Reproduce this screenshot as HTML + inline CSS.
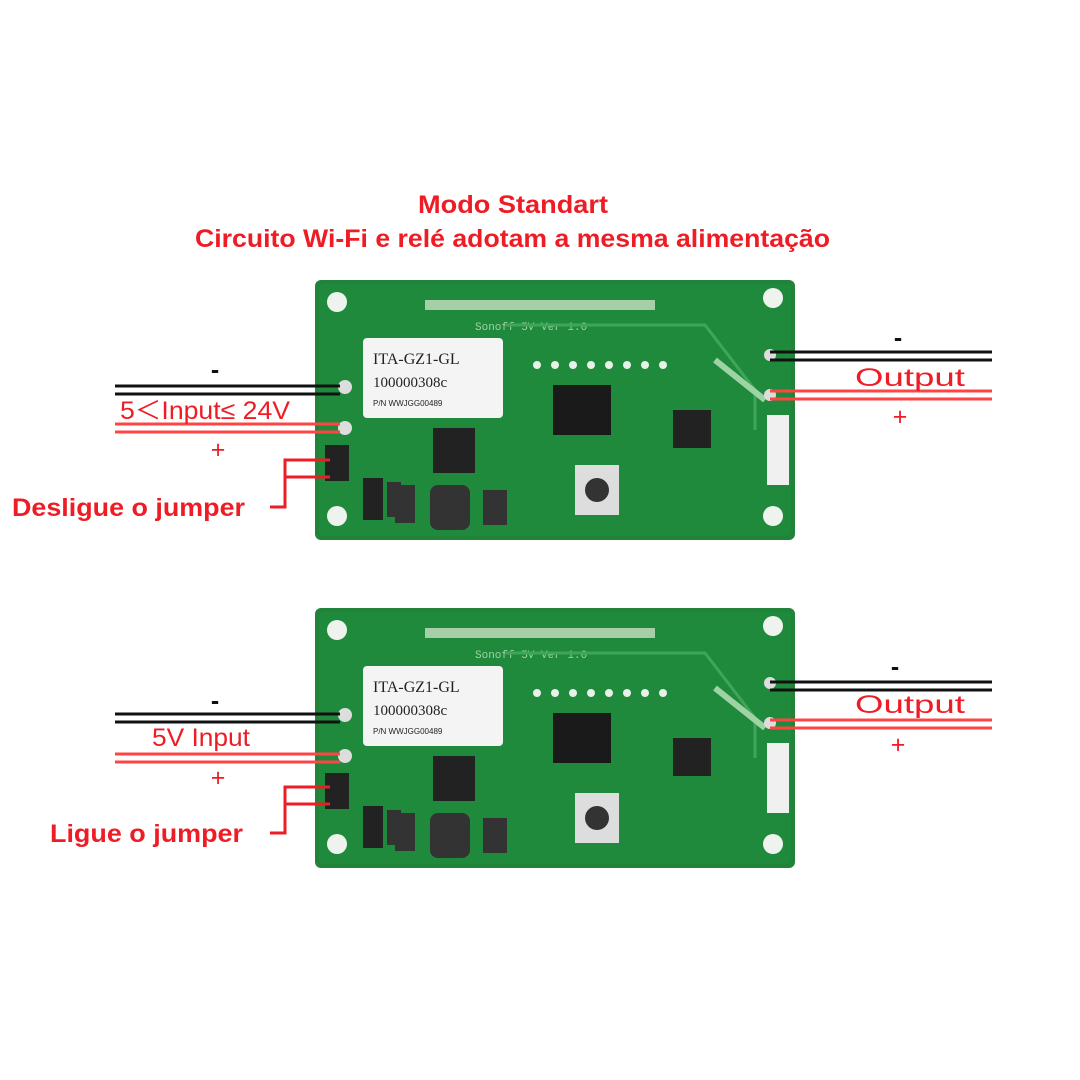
<!DOCTYPE html><html><head><style>body{margin:0;background:#fff}svg{display:block}</style></head><body>
<svg width="1080" height="1080" viewBox="0 0 1080 1080" xmlns="http://www.w3.org/2000/svg" font-family="Liberation Sans, sans-serif">
<defs>
<g id="board">
<rect x="0" y="0" width="480" height="260" rx="6" fill="#21823a"/>
<rect x="4" y="4" width="472" height="252" rx="5" fill="#1f8a3c"/>
<circle cx="22" cy="22" r="10" fill="#eef3ee"/><circle cx="458" cy="18" r="10" fill="#eef3ee"/>
<circle cx="22" cy="236" r="10" fill="#eef3ee"/><circle cx="458" cy="236" r="10" fill="#eef3ee"/>
<rect x="110" y="20" width="230" height="10" fill="#a6cfa8"/>
<text x="160" y="50" font-size="11" fill="#9fd3a4" font-family="Liberation Mono, monospace">Sonoff 5V Ver 1.0</text>
<path d="M190 45 L390 45 L440 110 L440 150" stroke="#3fa55a" stroke-width="3" fill="none"/>
<path d="M400 80 L450 120" stroke="#9fd3a4" stroke-width="6"/>
<rect x="48" y="58" width="140" height="80" rx="4" fill="#f4f4f4"/>
<text x="58" y="84" font-size="16" fill="#222" font-family="Liberation Serif, serif">ITA-GZ1-GL</text>
<text x="58" y="107" font-size="15" fill="#222" font-family="Liberation Serif, serif">100000308c</text>
<text x="58" y="126" font-size="8" fill="#222">P/N WWJGG00489</text>
<g fill="#e8f0e8"><circle cx="222" cy="85" r="4"/><circle cx="240" cy="85" r="4"/><circle cx="258" cy="85" r="4"/><circle cx="276" cy="85" r="4"/><circle cx="294" cy="85" r="4"/><circle cx="312" cy="85" r="4"/><circle cx="330" cy="85" r="4"/><circle cx="348" cy="85" r="4"/></g>
<rect x="238" y="105" width="58" height="50" fill="#1a1a1a"/>
<rect x="118" y="148" width="42" height="45" fill="#222"/>
<rect x="358" y="130" width="38" height="38" fill="#222"/>
<rect x="452" y="135" width="22" height="70" fill="#f0f0f0"/>
<rect x="260" y="185" width="44" height="50" fill="#ddd"/><circle cx="282" cy="210" r="12" fill="#333"/>
<rect x="115" y="205" width="40" height="45" rx="8" fill="#333"/>
<rect x="168" y="210" width="24" height="35" fill="#333"/>
<rect x="72" y="202" width="14" height="35" fill="#333"/>
<rect x="80" y="205" width="20" height="38" fill="#333"/>
<rect x="10" y="165" width="24" height="36" fill="#222"/>
<rect x="48" y="198" width="20" height="42" fill="#222"/>
<circle cx="30" cy="107" r="7" fill="#ddd"/><circle cx="30" cy="148" r="7" fill="#ddd"/>
<circle cx="455" cy="75" r="6" fill="#ddd"/><circle cx="455" cy="115" r="6" fill="#ddd"/>
</g>
</defs>
<text x="418" y="213" font-size="25" font-weight="bold" fill="#ee1c25" textLength="190" lengthAdjust="spacingAndGlyphs">Modo Standart</text>
<text x="195" y="247" font-size="25" font-weight="bold" fill="#ee1c25" textLength="635" lengthAdjust="spacingAndGlyphs">Circuito Wi-Fi e relé adotam a mesma alimentação</text>
<use href="#board" x="315" y="280"/>
<use href="#board" x="315" y="608"/>
<g stroke-width="3">
<line x1="115" y1="386" x2="340" y2="386" stroke="#111"/><line x1="115" y1="394" x2="340" y2="394" stroke="#111"/>
<line x1="115" y1="424" x2="340" y2="424" stroke="#f44"/><line x1="115" y1="432" x2="340" y2="432" stroke="#f44"/>
<line x1="770" y1="352" x2="992" y2="352" stroke="#111"/><line x1="770" y1="360" x2="992" y2="360" stroke="#111"/>
<line x1="770" y1="391" x2="992" y2="391" stroke="#f44"/><line x1="770" y1="399" x2="992" y2="399" stroke="#f44"/>
<line x1="115" y1="714" x2="340" y2="714" stroke="#111"/><line x1="115" y1="722" x2="340" y2="722" stroke="#111"/>
<line x1="115" y1="754" x2="340" y2="754" stroke="#f44"/><line x1="115" y1="762" x2="340" y2="762" stroke="#f44"/>
<line x1="770" y1="682" x2="992" y2="682" stroke="#111"/><line x1="770" y1="690" x2="992" y2="690" stroke="#111"/>
<line x1="770" y1="720" x2="992" y2="720" stroke="#f44"/><line x1="770" y1="728" x2="992" y2="728" stroke="#f44"/>
</g>
<g stroke="#ee1c25" stroke-width="3" fill="none">
<path d="M330 460 L285 460 L285 507 L270 507"/><path d="M285 477 L330 477"/>
<path d="M330 787 L285 787 L285 833 L270 833"/><path d="M285 804 L330 804"/>
</g>
<g fill="#ee1c25" font-size="25">
<text x="215" y="378" text-anchor="middle" fill="#111" font-weight="bold">-</text>
<text x="120" y="419" textLength="170" lengthAdjust="spacingAndGlyphs">5＜Input≤ 24V</text>
<text x="218" y="458" text-anchor="middle">+</text>
<text x="12" y="516" font-weight="bold" textLength="233" lengthAdjust="spacingAndGlyphs">Desligue o jumper</text>
<text x="898" y="346" text-anchor="middle" fill="#111" font-weight="bold">-</text>
<text x="855" y="386" textLength="110" lengthAdjust="spacingAndGlyphs">Output</text>
<text x="900" y="425" text-anchor="middle">+</text>
<text x="215" y="709" text-anchor="middle" fill="#111" font-weight="bold">-</text>
<text x="152" y="746" textLength="98" lengthAdjust="spacingAndGlyphs">5V Input</text>
<text x="218" y="786" text-anchor="middle">+</text>
<text x="50" y="842" font-weight="bold" textLength="193" lengthAdjust="spacingAndGlyphs">Ligue o jumper</text>
<text x="895" y="675" text-anchor="middle" fill="#111" font-weight="bold">-</text>
<text x="855" y="713" textLength="110" lengthAdjust="spacingAndGlyphs">Output</text>
<text x="898" y="753" text-anchor="middle">+</text>
</g>
</svg>
</body></html>
